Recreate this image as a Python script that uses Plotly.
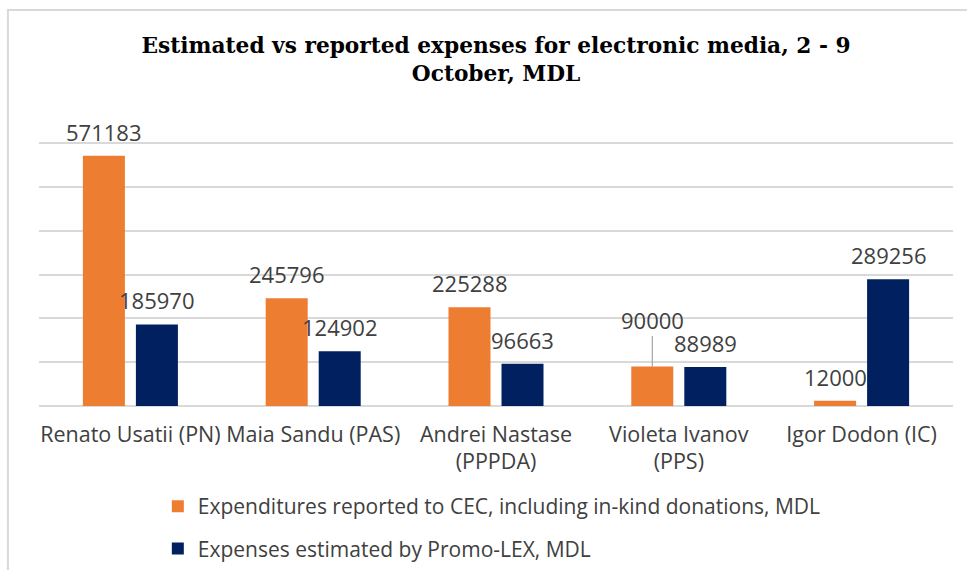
import plotly.graph_objects as go

categories = ["Renato Usatii (PN)", "Maia Sandu (PAS)", "Andrei Nastase<br>(PPPDA)",
              "Violeta Ivanov<br>(PPS)", "Igor Dodon (IC)"]
reported = [571183, 245796, 225288, 90000, 12000]
estimated = [185970, 124902, 96663, 88989, 289256]
series_names = ["Expenditures reported to CEC, including in-kind donations, MDL",
                "Expenses estimated by Promo-LEX, MDL"]
title_text = "Estimated vs reported expenses for electronic media, 2 - 9<br>October, MDL"
y_ticks = [0, 100000, 200000, 300000, 400000, 500000, 600000]

ORANGE = "#ED7D31"
NAVY = "#002060"
TXT = "#404040"
FONT = "Open Sans"

fig = go.Figure()
fig.add_trace(go.Bar(x=categories, y=reported, name=series_names[0],
                     marker=dict(color=ORANGE, line=dict(width=0)),
                     legendgroup="a", offsetgroup="a"))
fig.add_trace(go.Bar(x=categories, y=estimated, name=series_names[1],
                     marker=dict(color=NAVY, line=dict(width=0)),
                     legendgroup="b", offsetgroup="b"))

LBL = dict(family=FONT, size=22, color=TXT)
annotations = []
for c, v in zip(categories, reported):
    if v == 90000:
        annotations.append(dict(x=c, y=v, xref="x", yref="y", text=str(v),
                                showarrow=True, arrowhead=0, arrowwidth=1.2,
                                arrowcolor="#A6A6A6", ax=0, ay=-47,
                                xshift=-26.5, font=LBL))
    else:
        annotations.append(dict(x=c, y=v, xref="x", yref="y", text=str(v),
                                showarrow=False, yanchor="bottom", yshift=7,
                                xshift=-26.5, font=LBL))
for c, v in zip(categories, estimated):
    annotations.append(dict(x=c, y=v, xref="x", yref="y", text=str(v),
                            showarrow=False, yanchor="bottom", yshift=7,
                            xshift=26.5, font=LBL))

fig.update_layout(
    width=967, height=570,
    margin=dict(l=39, r=14, t=142, b=164, autoexpand=False),
    paper_bgcolor="white", plot_bgcolor="white",
    barmode="group", bargap=0.42, bargroupgap=0.2075,
    title=dict(text=title_text, x=0.513, xanchor="center", yref="container",
               y=1 - 53 / 570, yanchor="top",
               font=dict(family="DejaVu Serif", size=21.7, color="#000000", weight="bold")),
    font=dict(family=FONT, size=21.5, color=TXT),
    showlegend=True,
    legend=dict(orientation="v", x=0.130, xanchor="left", y=-0.303, yanchor="top",
                tracegroupgap=12, font=dict(family=FONT, size=21, color=TXT),
                bgcolor="rgba(0,0,0,0)"),
    annotations=annotations,
    shapes=[dict(type="rect", xref="paper", yref="paper",
                 x0=-0.034, x1=1.03, y0=-0.7, y1=1.5,
                 line=dict(color="#D9D9D9", width=2), fillcolor="rgba(0,0,0,0)",
                 layer="below")],
)
fig.update_xaxes(showgrid=False, showline=False, ticks="", ticklabelstandoff=13,
                 tickfont=dict(family=FONT, size=21.5, color=TXT))
fig.update_yaxes(range=[0, 602300], tickvals=y_ticks, showticklabels=False,
                 showgrid=True, gridcolor="#D9D9D9", gridwidth=1.5,
                 zeroline=True, zerolinecolor="#D9D9D9", zerolinewidth=1.5,
                 showline=False)

fig.write_html("out.html", config={"displayModeBar": False},
               post_script="document.body.style.margin='0';document.body.style.overflow='hidden';")
